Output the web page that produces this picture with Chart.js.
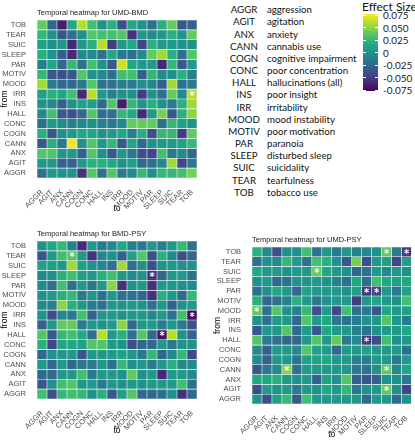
<!DOCTYPE html>
<html><head><meta charset="utf-8">
<script src="https://cdn.jsdelivr.net/npm/chart.js@4/dist/chart.umd.min.js"></script>
<style>
html,body{margin:0;padding:0;background:#fff}
body{width:415px;height:440px;position:relative;overflow:hidden}
canvas{position:absolute}
#legend{position:absolute;left:0;top:0;font-family:Lato,"Open Sans",sans-serif;font-size:9.7px;color:#111}
.abbr{position:absolute;width:40px;text-align:center;transform:translateY(-50%);white-space:nowrap}
.desc{position:absolute;transform:translateY(-50%);white-space:nowrap}
#cbtitle{position:absolute;left:362px;top:-1px;font-family:Lato,sans-serif;font-size:12px;color:#111;white-space:nowrap}
#cbar{position:absolute;left:363px;top:14px;width:15px;height:77px}
.cbl{position:absolute;left:383px;transform:translateY(-50%);font-family:Lato,sans-serif;font-size:10px;color:#222}
.tick{position:absolute;height:1px;background:#fff;width:3px}
</style>
</head><body>
<canvas id="c1" width="205" height="220" style="left:0;top:0"></canvas>
<canvas id="c2" width="205" height="220" style="left:0;top:220px"></canvas>
<canvas id="c3" width="210" height="220" style="left:205px;top:220px"></canvas>
<div id="legend"></div>
<div id="cbtitle">Effect Size</div>
<div id="cbar"></div>
<script>
// ---------- DATA ----------
const toLabels = ['AGGR','AGIT','ANX','CANN','COGN','CONC','HALL','INS','IRR','MOOD','MOTIV','PAR','SLEEP','SUIC','TEAR','TOB'];
// rows listed top to bottom as drawn
const fromLabels = ['TOB','TEAR','SUIC','SLEEP','PAR','MOTIV','MOOD','IRR','INS','HALL','CONC','COGN','CANN','ANX','AGIT','AGGR'];
const descriptions = ['aggression','agitation','anxiety','cannabis use','cognitive impairment','poor concentration','hallucinations (all)','poor insight','irritability','mood instability','poor motivation','paranoia','disturbed sleep','suicidality','tearfulness','tobacco use'];
const colorbarTicks = [0.075,0.05,0.025,0,-0.025,-0.05,-0.075];
const colorbarLabels = ['0.075','0.050','0.025','0','-0.025','-0.050','-0.075'];
const titles = ['Temporal heatmap for UMD-BMD','Temporal heatmap for BMD-PSY','Temporal heatmap for UMD-PSY'];

const umdBmd = [
 [0.04,-0.025,-0.065,0.015,0.06,0.03,0.0,0.02,-0.04,0.015,0.0,-0.02,0.02,0.04,-0.035,-0.03],
 [0.025,0.0,-0.035,-0.02,0.0,0.035,0.03,0.03,0.035,-0.055,0.005,-0.005,0.005,0.02,0.0,0.04],
 [0.01,0.0,0.005,-0.06,0.005,0.02,0.06,-0.05,0.005,0.015,-0.045,0.02,0.005,0.005,0.0,0.0],
 [0.02,0.0,-0.03,-0.06,-0.005,-0.005,-0.02,0.015,-0.015,-0.02,-0.005,0.04,0.055,0.02,-0.02,0.035],
 [-0.01,0.015,-0.025,0.025,-0.02,0.03,0.0,-0.035,0.065,0.015,0.005,0.005,-0.06,0.025,-0.035,0.005],
 [0.025,-0.035,-0.04,-0.035,0.035,0.0,-0.005,-0.02,0.03,0.03,-0.03,0.025,-0.005,0.0,0.02,-0.01],
 [0.055,-0.015,-0.025,-0.025,-0.015,0.035,-0.02,-0.02,-0.01,-0.015,0.0,-0.005,-0.03,0.055,-0.02,-0.015],
 [0.01,0.02,0.015,0.03,-0.06,0.06,0.005,-0.01,0.0,0.0,-0.05,0.0,-0.02,0.04,-0.005,0.06],
 [0.0,-0.005,-0.03,0.0,0.01,0.01,-0.025,0.035,-0.065,0.025,0.0,0.02,0.0,-0.015,0.02,0.055],
 [-0.005,0.03,-0.035,-0.04,-0.025,0.035,-0.02,-0.02,0.025,0.015,-0.06,0.005,0.045,-0.035,0.02,0.05],
 [-0.02,0.005,-0.005,-0.01,-0.005,0.0,-0.01,-0.015,-0.005,0.04,0.04,0.04,-0.02,0.025,0.01,0.0],
 [0.02,-0.035,0.0,0.005,0.015,0.015,0.0,0.005,0.015,-0.01,0.02,-0.04,0.025,0.025,-0.05,0.04],
 [-0.035,0.02,-0.015,0.075,0.0,0.035,0.005,0.025,-0.035,0.015,-0.025,0.0,0.005,0.005,0.01,0.025],
 [0.035,0.035,0.005,0.005,-0.03,0.035,0.0,-0.035,0.005,-0.015,-0.04,-0.045,0.03,-0.015,-0.005,-0.025],
 [0.005,0.005,-0.03,-0.03,0.005,0.02,0.02,0.015,0.0,0.01,-0.025,-0.02,-0.005,0.055,-0.045,-0.015],
 [-0.02,0.005,0.0,0.0,-0.055,0.035,-0.02,0.035,-0.015,-0.005,0.025,0.0,0.025,0.025,0.03,0.045]
];
const bmdPsy = [
 [0.0,0.015,0.025,-0.01,-0.06,0.005,-0.015,-0.005,0.015,-0.01,-0.015,0.005,-0.01,0.005,0.025,-0.02],
 [-0.035,0.005,0.03,0.035,0.005,-0.055,-0.005,0.0,-0.03,0.01,0.035,-0.04,0.02,-0.005,-0.04,-0.025],
 [0.01,0.01,0.005,0.055,0.01,0.0,-0.005,-0.02,0.055,-0.02,0.0,-0.04,0.0,0.005,0.0,0.0],
 [-0.005,0.0,0.02,0.03,0.01,0.005,0.02,0.03,0.005,-0.005,0.0,-0.055,-0.025,0.005,0.005,-0.02],
 [-0.005,-0.02,0.03,-0.02,0.005,-0.015,0.005,0.05,-0.055,0.0,0.005,-0.055,0.005,0.005,0.0,-0.005],
 [0.0,0.005,0.02,0.025,-0.015,0.005,-0.02,0.005,-0.02,-0.02,-0.025,-0.055,0.02,0.005,-0.025,0.025],
 [-0.005,-0.01,0.05,0.02,0.005,-0.015,-0.02,0.005,0.0,0.005,0.0,-0.02,0.005,-0.03,0.0,0.005],
 [0.0,-0.04,-0.005,-0.015,0.03,-0.03,0.005,0.005,0.0,0.005,0.005,-0.005,0.005,-0.02,0.03,-0.075],
 [-0.03,0.005,0.04,0.04,-0.015,0.005,0.0,0.005,0.05,-0.025,0.005,0.005,-0.015,0.005,-0.015,-0.04],
 [0.035,-0.035,0.025,0.03,0.015,-0.02,0.06,0.005,0.02,-0.02,0.035,-0.025,-0.07,0.06,0.0,-0.03],
 [0.02,-0.045,0.015,0.015,0.01,0.035,0.035,0.005,0.0,-0.04,-0.025,-0.025,0.005,-0.015,0.0,0.0],
 [-0.025,0.0,0.005,0.005,-0.035,0.005,0.005,0.005,0.01,0.005,-0.015,0.025,-0.025,-0.005,0.025,-0.045],
 [0.005,-0.025,0.005,-0.025,-0.015,-0.015,0.005,-0.02,0.025,0.0,0.005,-0.015,0.005,0.02,-0.005,-0.005],
 [-0.025,-0.025,0.005,0.005,0.03,-0.015,0.005,0.005,0.0,0.04,0.0,0.005,-0.06,0.005,0.005,-0.005],
 [-0.035,0.0,0.03,0.035,0.005,0.005,-0.015,0.005,0.0,0.005,0.0,0.005,0.005,0.005,0.03,-0.02],
 [0.03,-0.04,0.025,0.03,0.025,0.0,0.02,-0.035,0.01,0.035,-0.025,-0.025,-0.02,0.0,-0.055,-0.025]
];
const umdPsy = [
 [0.02,-0.005,-0.04,0.0,0.0,0.03,-0.02,0.005,-0.015,0.005,-0.01,-0.005,0.0,0.04,-0.015,-0.05],
 [-0.02,0.0,-0.005,0.025,0.005,-0.02,0.03,0.02,0.0,-0.035,0.045,-0.04,0.005,0.01,-0.045,0.01],
 [0.015,0.005,0.005,0.0,0.005,0.005,0.04,0.015,0.005,0.0,-0.025,-0.02,0.005,-0.005,0.005,0.0],
 [0.0,0.005,-0.025,-0.02,0.0,0.0,0.005,0.0,-0.01,-0.02,0.015,-0.02,0.03,0.015,0.01,0.015],
 [-0.02,0.0,0.015,0.005,-0.025,0.01,0.005,0.005,0.005,0.0,0.01,-0.05,-0.045,0.005,-0.015,0.01],
 [0.02,-0.025,-0.02,-0.01,0.02,0.005,-0.015,0.0,0.005,0.005,-0.05,0.005,0.015,0.005,0.0,0.03],
 [0.04,-0.02,0.035,0.0,-0.01,0.025,-0.04,0.005,-0.045,0.03,-0.02,-0.015,-0.035,0.015,0.005,0.01],
 [0.0,-0.02,0.005,0.005,-0.025,0.035,0.005,0.015,-0.015,-0.02,-0.015,0.0,0.005,0.035,0.005,-0.015],
 [-0.035,0.005,0.005,0.035,-0.025,0.005,-0.035,0.015,0.005,0.005,-0.01,-0.02,0.0,0.005,0.005,0.015],
 [0.035,-0.015,-0.02,-0.025,-0.025,0.005,0.035,0.005,0.04,-0.015,-0.005,-0.05,-0.04,0.03,0.0,0.005],
 [-0.005,-0.03,0.005,0.005,-0.005,0.035,0.01,0.005,-0.025,0.005,0.005,0.01,0.005,0.005,0.005,-0.02],
 [-0.005,-0.03,0.005,0.005,-0.02,0.01,0.01,0.015,0.005,0.005,-0.01,-0.015,0.005,0.005,-0.015,0.005],
 [-0.035,-0.015,-0.005,0.05,-0.02,0.005,0.005,0.005,0.005,0.005,-0.015,-0.02,0.0,0.04,-0.005,0.015],
 [0.015,0.015,0.02,0.005,0.0,0.005,-0.03,0.01,0.0,0.035,-0.03,-0.035,-0.03,0.0,0.0,-0.015],
 [-0.04,0.005,0.0,0.005,-0.015,0.005,0.0,0.015,0.005,0.025,-0.015,0.0,0.005,0.04,0.0,-0.045],
 [0.0,-0.04,0.01,0.025,-0.035,0.03,0.005,0.005,0.005,0.005,0.005,-0.025,0.005,0.005,-0.025,0.0]
];
// significant cells [from, to]
const umdBmdStars = [['IRR','TOB']];
const bmdPsyStars = [['TEAR','CANN'],['SLEEP','PAR'],['IRR','TOB'],['HALL','SLEEP']];
const umdPsyStars = [['TOB','SUIC'],['TOB','TOB'],['SUIC','HALL'],['PAR','PAR'],['PAR','SLEEP'],['MOOD','AGGR'],['HALL','PAR'],['CANN','CANN'],['CANN','SUIC'],['AGIT','SUIC']];

// ---------- COLOR ----------
const VMIN = -0.077, VMAX = 0.077;
const VIR = ['#440154','#482475','#414487','#355f8d','#2a788e','#21918c','#22a884','#44bf70','#7ad151','#bddf26','#fde725'];
function hex2rgb(h){return [parseInt(h.slice(1,3),16),parseInt(h.slice(3,5),16),parseInt(h.slice(5,7),16)];}
const VIRRGB = VIR.map(hex2rgb);
function viridisT(t){
  t = Math.max(0, Math.min(1, t));
  const p = t*(VIRRGB.length-1), i = Math.min(Math.floor(p), VIRRGB.length-2), f = p-i;
  const a = VIRRGB[i], b = VIRRGB[i+1];
  return 'rgb(' + [0,1,2].map(k=>Math.round(a[k]+(b[k]-a[k])*f)).join(',') + ')';
}
function colorOf(v){return viridisT((v-VMIN)/(VMAX-VMIN));}

// ---------- HEATMAP ----------
const TICK_FONT = {family:'"Liberation Sans", Arial, sans-serif', size:7.5};
const AXT_FONT = {family:'"Liberation Sans", Arial, sans-serif', size:8.5};
function heatmap(id, title, values, stars, g){
  const nRows = fromLabels.length;
  const bottomUp = fromLabels.slice().reverse();
  const datasets = bottomUp.map((r, k) => {
    const row = values[nRows-1-k];
    return {
      label: r,
      data: toLabels.map(()=>1),
      backgroundColor: row.map(colorOf),
      borderColor: 'rgba(255,255,255,0.22)',
      borderWidth: 0.6,
      borderSkipped: false,
      categoryPercentage: 1.0,
      barPercentage: 1.0,
      stack: 's'
    };
  });
  const overlay = {
    id: 'overlay'+id,
    afterDatasetsDraw(chart){
      const {ctx, chartArea, scales:{x, y}} = chart;
      ctx.save();
      ctx.fillStyle = '#1a1a1a';
      ctx.font = '7.5px "Liberation Sans", Arial, sans-serif';
      ctx.textAlign = 'left'; ctx.textBaseline = 'middle';
      ctx.fillText(title, chartArea.left, chartArea.top - 7);
      ctx.fillStyle = '#ffffff';
      ctx.font = 'bold 10px "DejaVu Sans", sans-serif';
      ctx.textAlign = 'center';
      stars.forEach(([f, t]) => {
        const px = x.getPixelForValue(toLabels.indexOf(t));
        const py = y.getPixelForValue(bottomUp.indexOf(f) + 0.5);
        ctx.fillText('*', px, py + 2);
      });
      ctx.restore();
    }
  };
  return new Chart(document.getElementById(id), {
    type: 'bar',
    data: {labels: toLabels, datasets},
    options: {
      responsive: false, animation: false, devicePixelRatio: 1,
      layout: {padding: {top: g.top, right: g.right, left: 0, bottom: 0}},
      plugins: {legend: {display: false}, tooltip: {enabled: false}, title: {display: false}},
      scales: {
        x: {
          stacked: true, offset: true,
          grid: {display: false}, border: {display: false},
          ticks: {autoSkip: false, minRotation: 45, maxRotation: 45, padding: 2, color: '#4d4d4d', font: TICK_FONT},
          title: {display: true, text: 'to', color: '#000', font: AXT_FONT, padding: {top: 0, bottom: g.toPad}},
          afterFit(s){ s.height = g.xh; }
        },
        y: {
          stacked: true, min: 0, max: nRows,
          grid: {display: false}, border: {display: false},
          afterBuildTicks(s){ s.ticks = bottomUp.map((_, i) => ({value: i + 0.5})); },
          ticks: {autoSkip: false, padding: 3, color: '#4d4d4d', font: TICK_FONT,
                  callback: (v) => bottomUp[Math.floor(v)]},
          title: {display: true, text: 'from', color: '#000', font: AXT_FONT, padding: {top: g.fromPad, bottom: 0}},
          afterFit(s){ s.width = g.yw; }
        }
      }
    },
    plugins: [overlay]
  });
}
heatmap('c1', titles[0], umdBmd, umdBmdStars, {top: 20, right: 8, xh: 42, yw: 37, toPad: 6, fromPad: 0});
heatmap('c2', titles[1], bmdPsy, bmdPsyStars, {top: 21, right: 8, xh: 41, yw: 37, toPad: 4, fromPad: 0});
heatmap('c3', titles[2], umdPsy, umdPsyStars, {top: 27, right: 3, xh: 36, yw: 47, toPad: 0, fromPad: 8});

// ---------- LEGEND TABLE ----------
const leg = document.getElementById('legend');
toLabels.forEach((a, i) => {
  const y = 9.3 + i * 12.16;
  const d1 = document.createElement('div'); d1.className = 'abbr'; d1.style.left = '224px'; d1.style.top = y + 'px'; d1.textContent = a; leg.appendChild(d1);
  const d2 = document.createElement('div'); d2.className = 'desc'; d2.style.left = '267px'; d2.style.top = y + 'px'; d2.textContent = descriptions[i]; leg.appendChild(d2);
});
// ---------- COLORBAR ----------
const stops = [];
for (let i = 0; i <= 20; i++) stops.push(viridisT(i/20) + ' ' + (i*5) + '%');
document.getElementById('cbar').style.background = 'linear-gradient(to top,' + stops.join(',') + ')';
const CB_TOP = 14, CB_H = 77;
colorbarTicks.forEach((v, i) => {
  const y = CB_TOP + (VMAX - v) / (VMAX - VMIN) * CB_H;
  const l = document.createElement('div'); l.className = 'cbl'; l.style.top = y + 'px'; l.textContent = colorbarLabels[i]; document.body.appendChild(l);
  [363, 375].forEach(x => { const t = document.createElement('div'); t.className = 'tick'; t.style.left = x + 'px'; t.style.top = (y - 0.5) + 'px'; document.body.appendChild(t); });
});
</script>
</body></html>
